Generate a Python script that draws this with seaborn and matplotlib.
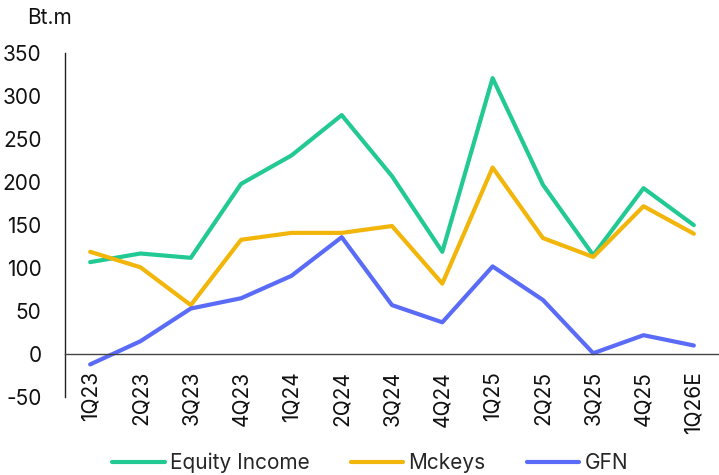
import matplotlib
matplotlib.use("Agg")
import matplotlib.pyplot as plt
import pandas as pd
import seaborn as sns

quarters = ["1Q23", "2Q23", "3Q23", "4Q23", "1Q24", "2Q24", "3Q24",
            "4Q24", "1Q25", "2Q25", "3Q25", "4Q25", "1Q26E"]
equity_income = [107, 117, 112, 198, 231, 278, 207, 119, 321, 197, 115, 193, 150]
mckeys = [119, 101, 57, 133, 141, 141, 149, 82, 217, 135, 113, 172, 140]
gfn = [-12, 15, 53, 65, 91, 136, 57, 37, 102, 63, 1, 22, 10]

series_names = ["Equity Income", "Mckeys", "GFN"]
colors = ["#22C993", "#F2B50A", "#5A6CF7"]

df = pd.concat([
    pd.DataFrame({"quarter": quarters, "value": vals, "series": name})
    for name, vals in zip(series_names, [equity_income, mckeys, gfn])
])
df["pos"] = df["quarter"].map({q: i for i, q in enumerate(quarters)})

sns.set_theme(style="white")
plt.rcParams["font.family"] = ["Inter", "DejaVu Sans"]
plt.rcParams["axes.unicode_minus"] = False

fig = plt.figure(figsize=(7.19, 4.75), dpi=100)
ax = fig.add_axes([0.0904, 0.164, 0.9096, 0.724])

sns.lineplot(data=df, x="pos", y="value", hue="series", hue_order=series_names,
             palette=colors, linewidth=3, ax=ax, legend=True)

ax.set_xlim(-0.5, len(quarters) - 0.5)
ax.set_ylim(-50, 350)
ax.set_yticks(range(-50, 351, 50))
ax.set_xticks(range(len(quarters)))
ax.set_xticklabels(quarters)
ax.set_xlabel("")
ax.set_ylabel("")

for side in ["top", "right"]:
    ax.spines[side].set_visible(False)
ax.spines["left"].set_color("#222222")
ax.spines["left"].set_linewidth(1)
ax.spines["bottom"].set_position(("data", 0))
ax.spines["bottom"].set_color("#444444")
ax.spines["bottom"].set_linewidth(1)
ax.tick_params(axis="both", length=0, labelsize=15, colors="#111111")
ax.tick_params(axis="x", pad=12, labelrotation=90)
ax.tick_params(axis="y", pad=17)

fig.text(0.038, 0.962, "Bt.m", fontsize=15, ha="left", va="center", color="#111111")

handles, labels = ax.get_legend_handles_labels()
ax.legend_.remove()
fig.legend(handles, labels, loc="lower center", bbox_to_anchor=(0.515, -0.035),
           ncol=3, frameon=False, fontsize=15, handlelength=2.5,
           columnspacing=2.0, handletextpad=0.25)

fig.savefig("out.png", dpi=100)
